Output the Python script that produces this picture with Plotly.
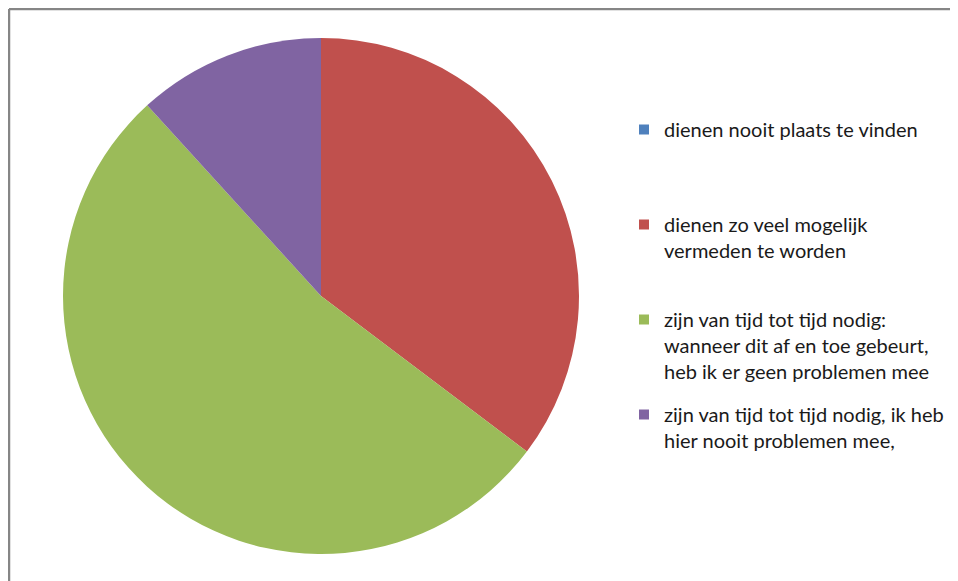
import plotly.graph_objects as go

labels = [
    "dienen nooit plaats te vinden",
    "dienen zo veel mogelijk<br>vermeden te worden",
    "zijn van tijd tot tijd nodig:<br>wanneer dit af en toe gebeurt,<br>heb ik er geen problemen mee",
    "zijn van tijd tot tijd nodig, ik heb<br>hier nooit problemen mee,",
]
pad_lines = [2, 1, 0, 0]
values = [0, 6, 9, 2]
colors = ["#4F81BD", "#C0504D", "#9BBB59", "#8064A2"]

W, H = 958, 581
CX, CY, R = 313, 288, 258

fig = go.Figure()
fig.add_trace(go.Pie(
    labels=[l.replace("<br>", " ") for l in labels],
    values=values,
    sort=False,
    direction="clockwise",
    rotation=0,
    textinfo="none",
    hoverinfo="label+value+percent",
    showlegend=False,
    marker=dict(colors=colors, line=dict(width=0)),
    domain=dict(x=[(CX - R) / W, (CX + R) / W],
                y=[(H - CY - R) / H, (H - CY + R) / H]),
))

# legend entries (one per slice)
for i, (lab, p, c) in enumerate(zip(labels, pad_lines, colors)):
    fig.add_trace(go.Scatter(
        x=[None], y=[None], mode="markers",
        name=lab + "<br> " * p,
        legendgroup=f"g{i}",
        marker=dict(symbol="square", size=10, color=c, line=dict(width=0)),
        hoverinfo="skip",
    ))

fig.update_layout(
    width=W, height=H,
    margin=dict(l=0, r=0, t=0, b=0),
    paper_bgcolor="white",
    plot_bgcolor="white",
    xaxis=dict(visible=False),
    yaxis=dict(visible=False),
    font=dict(family="Lato, 'Open Sans', sans-serif", size=20, color="#1a1a1a"),
    legend=dict(x=616 / W, y=1 - 102 / H, xanchor="left", yanchor="top",
                valign="top", traceorder="grouped", tracegroupgap=14,
                font=dict(size=20, color="#1a1a1a"), itemclick=False),
    shapes=[
        dict(type="line", xref="paper", yref="paper",
             x0=1 / W, x1=1.02, y0=1 - 1 / H, y1=1 - 1 / H,
             line=dict(color="#868686", width=2.5)),
        dict(type="line", xref="paper", yref="paper",
             x0=1 / W, x1=1 / W, y0=1 - 1 / H, y1=-0.02,
             line=dict(color="#868686", width=2.5)),
    ],
)

fig.write_html("out.html")
